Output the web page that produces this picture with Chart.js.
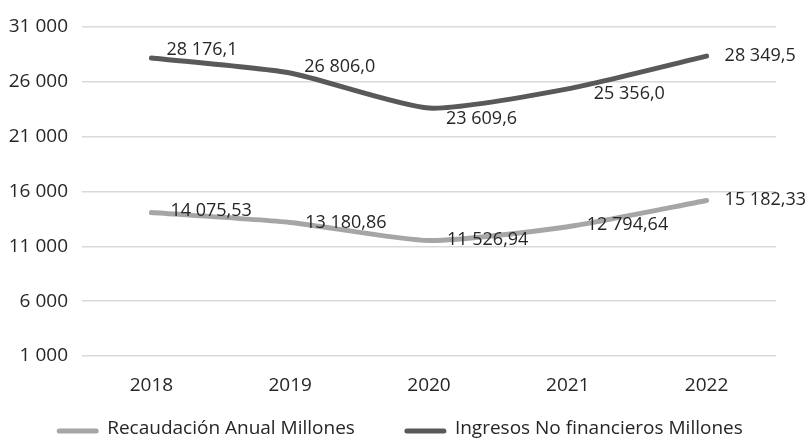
<!DOCTYPE html>
<html>
<head>
    <meta charset="UTF-8">
    <script src="https://cdn.jsdelivr.net/npm/chart.js@4.4.1/dist/chart.umd.min.js"></script>
    <style>
        html, body { margin:0; padding:0; background:#fff; }
        #wrap { width:811px; height:440px; }
    </style>
</head>
<body>
<div id="wrap"><canvas id="lineChart" width="811" height="440"></canvas></div>

<script>
    // datos
    const years = ['2018', '2019', '2020', '2021', '2022'];
    const recaudacion = [14075.53, 13180.86, 11526.94, 12794.64, 15182.33];
    const ingresosNoFin = [28176.1, 26806.0, 23609.6, 25356.0, 28349.5];
    const yTicks = [1000, 6000, 11000, 16000, 21000, 26000, 31000];

    const FONT = '"Open Sans", sans-serif';
    const TEXT = '#262626';

    function fmt(v, dec) {
        var s = v.toFixed(dec).split('.');
        var ent = s[0].replace(/\B(?=(\d{3})+(?!\d))/g, ' ');
        return s.length > 1 ? ent + ',' + s[1] : ent;
    }

    // etiquetas de datos, desplazadas a mano como en el original
    const valueLabels = {
        id: 'valueLabels',
        afterDatasetsDraw(chart, args, opts) {
            const ctx = chart.ctx;
            ctx.save();
            ctx.font = '18px ' + FONT;
            ctx.fillStyle = TEXT;
            ctx.textAlign = 'left';
            ctx.textBaseline = 'middle';
            chart.data.datasets.forEach(function(ds, di) {
                var meta = chart.getDatasetMeta(di);
                var off = opts.offsets[di];
                meta.data.forEach(function(pt, i) {
                    ctx.fillText(fmt(ds.data[i], ds.decimals), pt.x + off.dx[i], pt.y + off.dy[i]);
                });
            });
            ctx.restore();
        }
    };

    // leyenda dibujada abajo
    const bottomLegend = {
        id: 'bottomLegend',
        afterDraw(chart, args, opts) {
            const ctx = chart.ctx;
            ctx.save();
            ctx.font = '19px ' + FONT;
            var lineW = 41, gapText = 9, gapItem = 50;
            var items = chart.data.datasets.map(function(ds) {
                return {label: ds.label, color: ds.borderColor, w: lineW + gapText + ctx.measureText(ds.label).width};
            });
            var total = items.reduce(function(a, it) { return a + it.w; }, 0) + gapItem * (items.length - 1);
            var x = opts.centerX - total / 2;
            var y = opts.y;
            items.forEach(function(it) {
                ctx.strokeStyle = it.color;
                ctx.lineWidth = 5;
                ctx.lineCap = 'round';
                ctx.beginPath();
                ctx.moveTo(x + 2, y + 2);
                ctx.lineTo(x + lineW - 2, y + 2);
                ctx.stroke();
                ctx.fillStyle = TEXT;
                ctx.textBaseline = 'middle';
                ctx.fillText(it.label, x + lineW + gapText, y);
                x += it.w + gapItem;
            });
            ctx.restore();
        }
    };

    new Chart(document.getElementById('lineChart'), {
        type: 'line',
        data: {
            labels: years,
            datasets: [{
                label: 'Recaudación Anual Millones',
                data: recaudacion,
                decimals: 2,
                borderColor: '#a6a6a6',
                backgroundColor: '#a6a6a6',
                borderWidth: 5,
                borderCapStyle: 'round',
                pointRadius: 0,
                tension: 0.2
            }, {
                label: 'Ingresos No financieros Millones',
                data: ingresosNoFin,
                decimals: 1,
                borderColor: '#595959',
                backgroundColor: '#595959',
                borderWidth: 5,
                borderCapStyle: 'round',
                pointRadius: 0,
                tension: 0.2
            }]
        },
        options: {
            responsive: false,
            animation: false,
            layout: { padding: { top: 27, right: 35, bottom: 44, left: 0 } },
            plugins: {
                legend: { display: false },
                tooltip: { enabled: false },
                valueLabels: {
                    offsets: [
                        { dx: [19, 15, 18, 19, 18], dy: [-2, 0, -1, -2, -1] },
                        { dx: [15, 14, 17, 26, 18], dy: [-8, -6, 11, 5, 0] }
                    ]
                },
                bottomLegend: { centerX: 400, y: 429 }
            },
            scales: {
                x: {
                    offset: true,
                    grid: { display: false },
                    border: { display: false },
                    ticks: { color: TEXT, font: { family: FONT, size: 19 }, padding: 10 },
                    afterFit: function(s) { s.height = 40; }
                },
                y: {
                    min: 1000,
                    max: 31000,
                    grid: { color: '#d9d9d9', lineWidth: 1.5, drawTicks: false },
                    border: { display: false },
                    afterBuildTicks: function(s) { s.ticks = yTicks.map(function(v) { return {value: v}; }); },
                    ticks: {
                        color: TEXT,
                        font: { family: FONT, size: 19 },
                        padding: 14,
                        callback: function(v) { return fmt(v, 0); }
                    },
                    afterFit: function(s) { s.width = 82; }
                }
            }
        },
        plugins: [valueLabels, bottomLegend]
    });
</script>
</body>
</html>
